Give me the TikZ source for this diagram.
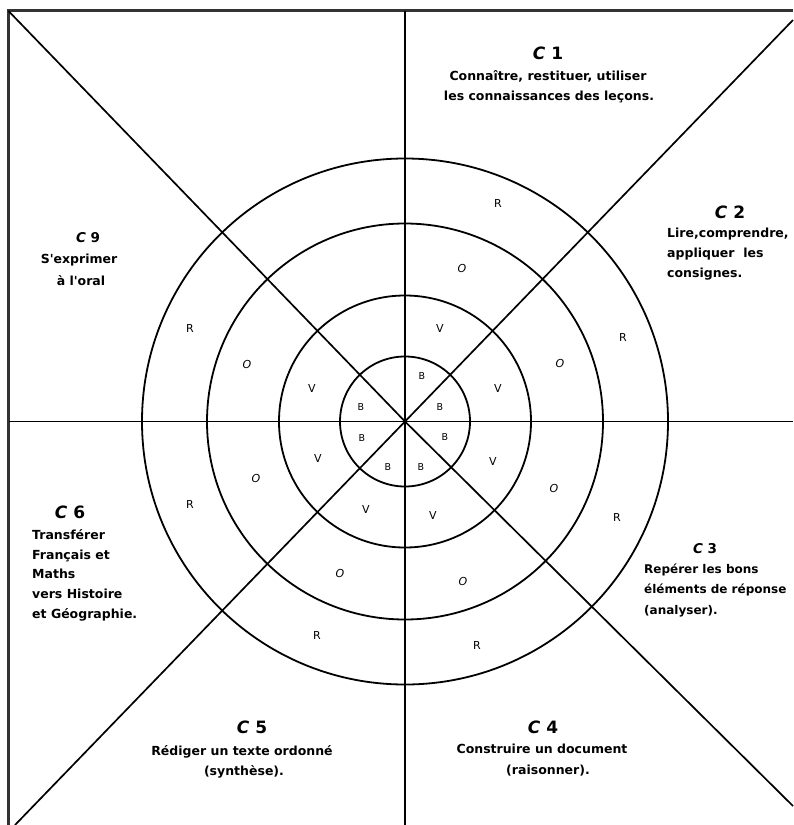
\documentclass[tikz,border=0pt]{standalone}
\usepackage{fontspec}
\setmainfont{DejaVu Sans}
\newcommand{\sq}{\textquotesingle}
\begin{document}
\begin{tikzpicture}[x=1pt,y=-1pt,
  ln/.style={line width=1.7pt,black},
  frame/.style={line width=2.2pt,black!80},
  ring/.style={line width=1.8pt,black},
  ctitle/.style={font=\fontsize{17}{20}\selectfont\bfseries,anchor=base,inner sep=0pt},
  csmall/.style={font=\fontsize{13.5}{16}\selectfont\bfseries,anchor=base,inner sep=0pt},
  desc/.style={font=\fontsize{12.5}{20}\selectfont\bfseries,anchor=base,inner sep=0pt},
  descl/.style={desc,anchor=base west},
  descs/.style={font=\fontsize{12}{20}\selectfont\bfseries,anchor=base west,inner sep=0pt},
  lev/.style={font=\fontsize{11}{12}\selectfont,inner sep=0pt},
  levo/.style={font=\fontsize{11}{12}\selectfont\itshape,inner sep=0pt},
  levb/.style={font=\fontsize{9.5}{10}\selectfont,inner sep=0pt}]
\useasboundingbox (0,0) rectangle (793,825);
\coordinate (O) at (405,421.5);
\coordinate (tl) at (8.5,11);
\coordinate (tr) at (793,20);
\coordinate (br) at (793,806);
\coordinate (bl) at (15,825);
\coordinate (lm) at (8.5,421.5);
\coordinate (rm) at (793,421.5);
\coordinate (tm) at (405,10.5);
\coordinate (bm) at (405,825);
\coordinate (fb) at (8.5,825);
\coordinate (fc) at (8.5,10.5);
\coordinate (fr) at (793,10.5);
% frame
\draw[frame] (fb) -- (fc) -- (fr);
% cross lines
\draw[ln] (lm) -- (rm);
\draw[ln] (tm) -- (bm);
\draw[ln] (tl) -- (O) -- (br);
\draw[ln] (tr) -- (O) -- (bl);
% rings
\foreach \r in {65,126,198,263} \draw[ring] (O) circle[radius=\r];
% C1
\node[ctitle] (c1) at (548,59.5) {\textit{C} 1};
\node[desc] (c1a) at (548,80.5) {Connaître, restituer, utiliser};
\node[desc] (c1b) at (549,100.5) {les connaissances des leçons.};
% C2
\node[ctitle] (c2) at (730,218) {\textit{C} 2};
\node[descl] (c2a) at (667,237.5) {Lire,comprendre,};
\node[descl] (c2b) at (667,257.5) {appliquer\ \ les};
\node[descl] (c2c) at (667,277.5) {consignes.};
% C9
\node[csmall] (c9) at (88,242) {\textit{C} 9};
\node[desc] (c9a) at (79,263.5) {S\sq exprimer};
\node[desc] (c9b) at (81,285.5) {à l\sq oral};
% C6
\node[ctitle] (c6) at (70,518.5) {\textit{C} 6};
\node[descl] (c6a) at (32,539.5) {Transférer};
\node[descl] (c6b) at (32,559.5) {Français et};
\node[descl] (c6c) at (32,578.5) {Maths};
\node[descl] (c6d) at (32,598.5) {vers Histoire};
\node[descl] (c6e) at (32,618.5) {et Géographie.};
% C3
\node[csmall] (c3) at (705,553) {\textit{C} 3};
\node[descs] (c3a) at (644,573.5) {Repérer les bons};
\node[descs] (c3b) at (644,593.5) {éléments de réponse};
\node[descs] (c3c) at (644,614) {(analyser).};
% C5
\node[ctitle] (c5) at (252,733.5) {\textit{C} 5};
\node[desc] (c5a) at (242,755.5) {Rédiger un texte ordonné};
\node[desc] (c5b) at (244,775) {(synthèse).};
% C4
\node[ctitle] (c4) at (543,733.5) {\textit{C} 4};
\node[desc] (c4a) at (542,753.5) {Construire un document};
\node[desc] (c4b) at (548,774) {(raisonner).};
% level letters
\node[lev] (r1) at (498,203) {R};
\node[levo] (o1) at (462,268) {O};
\node[lev] (v1) at (440,328) {V};
\node[levb] (b1) at (422,376) {B};
\node[lev] (r2) at (623,337) {R};
\node[levo] (o2) at (560,363) {O};
\node[lev] (v2) at (498,388) {V};
\node[levb] (b2) at (440,407) {B};
\node[lev] (r3) at (617,517) {R};
\node[levo] (o3) at (554,488) {O};
\node[lev] (v3) at (493,461) {V};
\node[levb] (b3) at (445,437) {B};
\node[lev] (r4) at (477,645) {R};
\node[levo] (o4) at (463,581) {O};
\node[lev] (v4) at (433,515) {V};
\node[levb] (b4) at (421,467) {B};
\node[lev] (r5) at (317,635) {R};
\node[levo] (o5) at (340,573) {O};
\node[lev] (v5) at (366,509) {V};
\node[levb] (b5) at (388,467) {B};
\node[lev] (r6) at (190,504) {R};
\node[levo] (o6) at (256,478) {O};
\node[lev] (v6) at (318,458) {V};
\node[levb] (b6) at (362,438) {B};
\node[lev] (r7) at (190,328) {R};
\node[levo] (o7) at (247,364) {O};
\node[lev] (v7) at (312,388) {V};
\node[levb] (b7) at (361,407) {B};
\end{tikzpicture}
\end{document}
